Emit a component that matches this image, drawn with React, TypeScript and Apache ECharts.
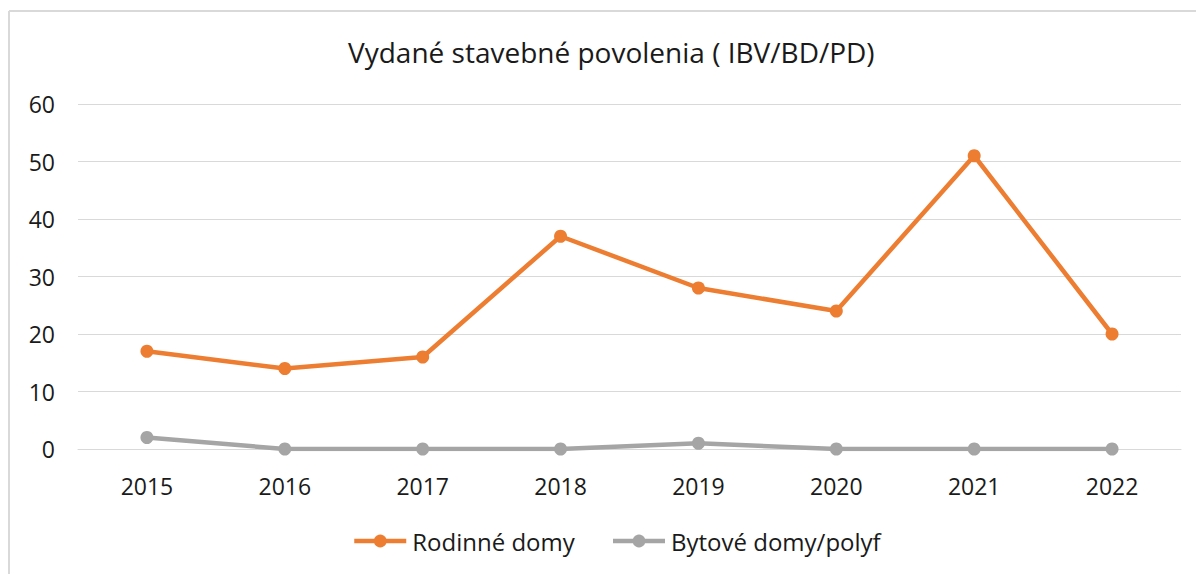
import React, { useEffect, useRef } from "react";
import * as echarts from "echarts";

const titleText = "Vydané stavebné povolenia ( IBV/BD/PD)";
const years = ["2015", "2016", "2017", "2018", "2019", "2020", "2021", "2022"];
const rodinneDomy = [17, 14, 16, 37, 28, 24, 51, 20];
const bytoveDomy = [2, 0, 0, 0, 1, 0, 0, 0];
const seriesNames = ["Rodinné domy", "Bytové domy/polyf"];
const yMin = 0;
const yMax = 60;
const yStep = 10;

const FONT = "'Open Sans', 'Noto Sans', sans-serif";

export default function App() {
  const ref = useRef<HTMLDivElement>(null);
  useEffect(() => {
    if (!ref.current) return;
    const chart = echarts.init(ref.current, undefined, { renderer: "svg" });
    chart.setOption({
      animation: false,
      backgroundColor: "#ffffff",
      title: {
        text: titleText,
        left: 343,
        top: 33,
        textStyle: { fontFamily: FONT, fontSize: 28, fontWeight: "normal", color: "#1a1a1a" },
      },
      legend: {
        bottom: 16,
        left: 347,
        itemWidth: 52,
        itemHeight: 16,
        itemGap: 36,
        lineStyle: { width: 4.5 },
        textStyle: { fontFamily: FONT, fontSize: 24, color: "#1a1a1a", padding: [0, 0, 0, 1] },
        data: seriesNames,
      },
      grid: { left: 78, right: 15, top: 104, bottom: 125 },
      xAxis: {
        type: "category",
        data: years,
        boundaryGap: true,
        axisLine: { show: true, lineStyle: { color: "#d9d9d9", width: 1 } },
        axisTick: { show: false },
        axisLabel: { margin: 25, fontFamily: FONT, fontSize: 23, color: "#1a1a1a" },
      },
      yAxis: {
        type: "value",
        min: yMin,
        max: yMax,
        interval: yStep,
        axisLine: { show: false },
        axisTick: { show: false },
        splitLine: { lineStyle: { color: "#d9d9d9", width: 1 } },
        axisLabel: { margin: 23, fontFamily: FONT, fontSize: 23, color: "#1a1a1a" },
      },
      graphic: [
        { type: "line", shape: { x1: 9, y1: 11, x2: 1196, y2: 11 }, style: { stroke: "#d9d9d9", lineWidth: 2 } },
        { type: "line", shape: { x1: 9, y1: 11, x2: 9, y2: 574 }, style: { stroke: "#d9d9d9", lineWidth: 2 } },
      ],
      series: [
        {
          name: seriesNames[0],
          type: "line",
          data: rodinneDomy,
          symbol: "circle",
          symbolSize: 13,
          lineStyle: { color: "#ED7D31", width: 4.5 },
          itemStyle: { color: "#ED7D31" },
        },
        {
          name: seriesNames[1],
          type: "line",
          data: bytoveDomy,
          symbol: "circle",
          symbolSize: 13,
          lineStyle: { color: "#A5A5A5", width: 4.5 },
          itemStyle: { color: "#A5A5A5" },
        },
      ],
    });
    return () => chart.dispose();
  }, []);
  return <div ref={ref} style={{ position: "fixed", left: 0, top: 0, width: 1196, height: 574 }} />;
}
